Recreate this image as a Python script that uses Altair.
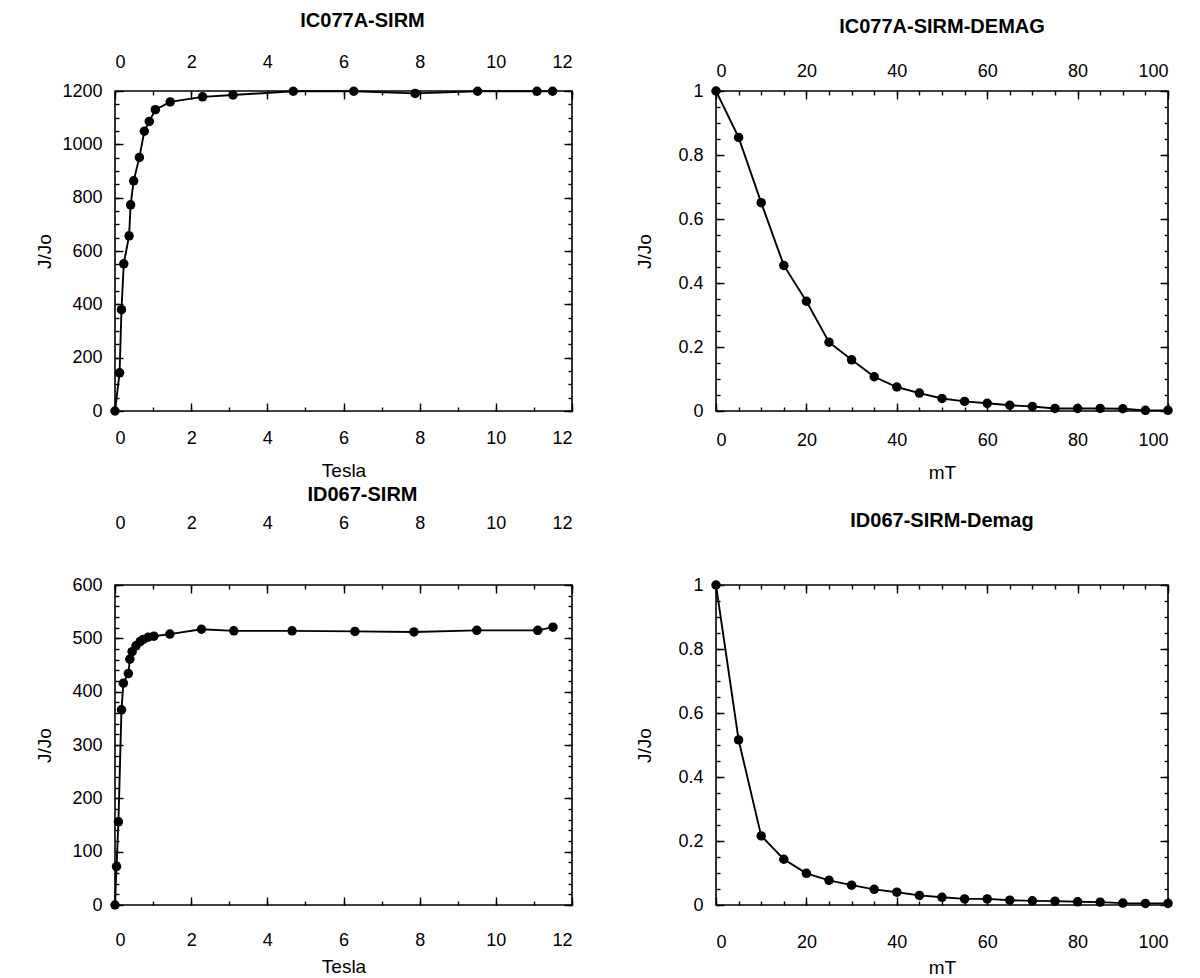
import altair as alt
import pandas as pd

FONT = "Liberation Sans"

# ---- data ----
ic_sirm_tesla = [0, 0.12, 0.17, 0.23, 0.37, 0.41, 0.49, 0.64, 0.77, 0.90, 1.06, 1.45,
                 2.3, 3.1, 4.68, 6.27, 7.88, 9.52, 11.08, 11.49]
ic_sirm_j = [0, 143, 380, 552, 657, 773, 863, 951, 1049, 1086, 1130, 1159,
             1178, 1185, 1199, 1199, 1191, 1199, 1199, 1199]

ic_demag_mt = [0, 5, 10, 15, 20, 25, 30, 35, 40, 45, 50, 55, 60, 65, 70, 75, 80, 85, 90, 95, 100]
ic_demag_j = [1.0, 0.855, 0.651, 0.455, 0.343, 0.215, 0.160, 0.107, 0.075, 0.056, 0.039,
              0.030, 0.024, 0.018, 0.014, 0.008, 0.008, 0.008, 0.007, 0.002, 0.002]

id_sirm_tesla = [0, 0.04, 0.09, 0.17, 0.22, 0.35, 0.39, 0.45, 0.55, 0.66, 0.74, 0.87, 1.02,
                 1.44, 2.27, 3.12, 4.65, 6.3, 7.85, 9.5, 11.1, 11.5]
id_sirm_j = [0, 72, 156, 366, 416, 434, 461, 475, 486, 494, 498, 502, 504,
             508, 517, 514, 514, 513, 512, 515, 515, 521]

id_demag_mt = [0, 5, 10, 15, 20, 25, 30, 35, 40, 45, 50, 55, 60, 65, 70, 75, 80, 85, 90, 95, 100]
id_demag_j = [1.0, 0.516, 0.216, 0.143, 0.099, 0.077, 0.062, 0.049, 0.040, 0.030, 0.024,
              0.019, 0.019, 0.015, 0.013, 0.012, 0.010, 0.009, 0.006, 0.005, 0.005]

# ---- tick values ----
tesla_major = [0, 2, 4, 6, 8, 10, 12]
tesla_minor = [i * 0.5 for i in range(25)]
mt_major = [0, 20, 40, 60, 80, 100]
mt_minor = [i * 5 for i in range(21)]
ic_y_major = [0, 200, 400, 600, 800, 1000, 1200]
ic_y_minor = [i * 50 for i in range(25)]
id_y_major = [0, 100, 200, 300, 400, 500, 600]
id_y_minor = [i * 20 for i in range(31)]
frac_major = [0, 0.2, 0.4, 0.6, 0.8, 1.0]
frac_minor = [round(i * 0.05, 2) for i in range(21)]


def ax(orient, values, size, labels, fmt, **kw):
    return alt.Axis(orient=orient, values=values, tickSize=size, offset=-size,
                    labels=labels, domain=False, grid=False, ticks=True,
                    tickColor="black", tickWidth=1.4, format=fmt,
                    labelFont=FONT, labelFontSize=18, labelColor="black",
                    titleFont=FONT, titleFontSize=19, titleFontWeight="normal",
                    titleColor="black", **kw)


def panel(xs, ys, xdom, ydom, xmaj, xmin, ymaj, ymin, xfmt, yfmt, title, xtitle,
          top_labels, top_pad, title_dx, title_offset, ytitle_pad,
          xlabel_pad, xtitle_pad, w, h):
    df = pd.DataFrame({"x": xs, "y": ys})
    base = alt.Chart(df)
    xs_ = alt.Scale(domain=xdom, nice=False, zero=False)
    ys_ = alt.Scale(domain=ydom, nice=False, zero=False)

    line = base.mark_line(color="black", strokeWidth=1.9).encode(
        x=alt.X("x:Q", scale=xs_, axis=ax("bottom", xmaj, 8, True, xfmt, title=xtitle,
                                           labelPadding=xlabel_pad, titlePadding=xtitle_pad)),
        y=alt.Y("y:Q", scale=ys_, axis=ax("left", ymaj, 8, True, yfmt, title="J/Jo",
                                           labelPadding=13, titlePadding=ytitle_pad)),
    )
    pts = base.mark_circle(size=90, color="black", opacity=1).encode(
        x=alt.X("x:Q", scale=xs_, axis=ax("bottom", xmin, 4, False, xfmt, title=None)),
        y=alt.Y("y:Q", scale=ys_, axis=ax("left", ymin, 4, False, yfmt, title=None)),
    )
    top_kw = {"labelPadding": top_pad} if top_labels else {}
    topmaj = base.mark_line(opacity=0).encode(
        x=alt.X("x:Q", scale=xs_, axis=ax("top", xmaj, 8, top_labels, xfmt, title=None, **top_kw)),
        y=alt.Y("y:Q", scale=ys_, axis=ax("right", ymaj, 8, False, yfmt, title=None)),
    )
    topmin = base.mark_line(opacity=0).encode(
        x=alt.X("x:Q", scale=xs_, axis=ax("top", xmin, 4, False, xfmt, title=None)),
        y=alt.Y("y:Q", scale=ys_, axis=ax("right", ymin, 4, False, yfmt, title=None)),
    )
    return alt.layer(line, pts, topmaj, topmin).resolve_axis(
        x="independent", y="independent"
    ).properties(
        width=w, height=h,
        title=alt.TitleParams(title, font=FONT, fontSize=20, fontWeight="bold",
                              color="black", offset=title_offset, dx=title_dx),
    )


p1 = panel(ic_sirm_tesla, ic_sirm_j, [0, 12], [0, 1200], tesla_major, tesla_minor,
           ic_y_major, ic_y_minor, "d", "d", "IC077A-SIRM", "Tesla",
           True, 20, 19, 22, 7, 18, 14, 457, 320)
p2 = panel(ic_demag_mt, ic_demag_j, [0, 100], [0, 1], mt_major, mt_minor,
           frac_major, frac_minor, "d", "~g", "IC077A-SIRM-DEMAG", "mT",
           True, 11, 0, 25, 23, 20, 14, 452, 320)
p3 = panel(id_sirm_tesla, id_sirm_j, [0, 12], [0, 600], tesla_major, tesla_minor,
           id_y_major, id_y_minor, "d", "d", "ID067-SIRM", "Tesla",
           True, 53, 19, 9, 17, 26, 8, 457, 320)
p4 = panel(id_demag_mt, id_demag_j, [0, 100], [0, 1], mt_major, mt_minor,
           frac_major, frac_minor, "d", "~g", "ID067-SIRM-Demag", "mT",
           False, 0, 0, 45, 23, 28, 7, 452, 320)

chart = alt.concat(p1, p2, p3, p4, columns=2,
                   spacing={"row": 174, "column": 144}, bounds="flush").properties(
    padding={"left": 35, "top": 10, "right": 5, "bottom": 5},
    background="white",
).configure_view(stroke="black", strokeWidth=1.6)

chart.save("out.html", embed_options={"renderer": "svg", "actions": False})
